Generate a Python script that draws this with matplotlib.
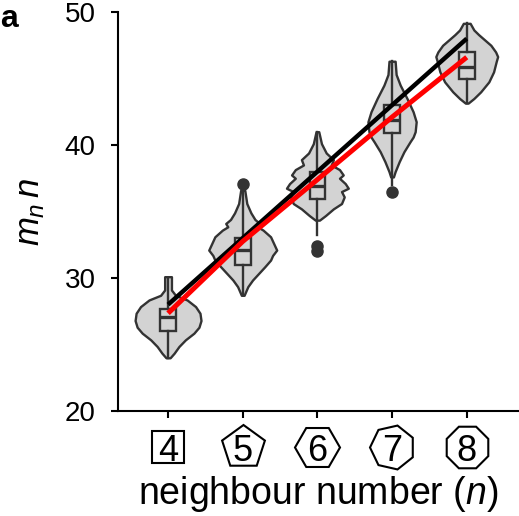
import matplotlib
matplotlib.use('Agg')
import matplotlib.pyplot as plt
import numpy as np

plt.rcParams['font.family'] = ['Liberation Sans', 'DejaVu Sans']
plt.rcParams['mathtext.fontset'] = 'custom'
plt.rcParams['mathtext.rm'] = 'Liberation Sans'
plt.rcParams['mathtext.it'] = 'Liberation Sans:italic'

# ---------------- data ----------------
neighbours = [4, 5, 6, 7, 8]
tick_labels = ['4', '5', '6', '7', '8']
polygon_sides = [4, 5, 6, 7, 8]
polygon_angles = [45, 0, 30, 90, 22.5]

# violin outlines: values and relative density (0..1)
v4_vals = [30.1, 29.1, 28.7, 28.35, 27.85, 27.35, 26.8, 26.3, 25.85, 25.35, 24.85, 24.35, 24.0]
v4_dens = [0.10, 0.10, 0.22, 0.56, 0.81, 0.94, 0.97, 0.91, 0.76, 0.51, 0.32, 0.18, 0.06]
v5_vals = [36.6, 35.6, 34.9, 34.4, 34.1, 33.85, 33.6, 33.1, 32.6, 32.1, 31.7, 31.35, 30.85, 30.35, 29.85, 29.35, 28.7]
v5_dens = [0.06, 0.12, 0.24, 0.36, 0.50, 0.44, 0.60, 0.82, 0.91, 1.00, 0.88, 0.82, 0.65, 0.47, 0.29, 0.15, 0.04]
v6_vals = [41.0, 40.1, 39.4, 38.9, 38.5, 38.15, 37.75, 37.5, 37.1, 36.75, 36.5, 36.1, 35.6, 35.2, 34.7, 34.35]
v6_dens = [0.04, 0.12, 0.26, 0.47, 0.41, 0.65, 0.76, 0.65, 0.82, 0.91, 0.71, 0.79, 0.71, 0.47, 0.24, 0.06]
v7_vals = [46.3, 45.3, 44.5, 43.5, 42.5, 41.75, 41.0, 40.6, 40.25, 39.5, 38.75, 38.0, 37.6]
v7_dens = [0.09, 0.12, 0.24, 0.44, 0.62, 0.71, 0.68, 0.62, 0.53, 0.35, 0.21, 0.09, 0.04]
v8_vals = [49.15, 48.65, 48.3, 47.9, 47.5, 47.0, 46.65, 46.3, 45.5, 44.75, 44.0, 43.5, 43.15]
v8_dens = [0.10, 0.21, 0.35, 0.53, 0.71, 0.85, 0.91, 0.87, 0.79, 0.65, 0.41, 0.21, 0.04]

# box statistics
q1 = [26.0, 31.0, 35.95, 40.9, 45.0]
median = [27.1, 32.1, 36.9, 41.9, 45.9]
q3 = [27.7, 33.0, 38.0, 43.0, 47.0]
whisker_low = [24.0, 28.7, 33.2, 37.0, 43.15]
whisker_high = [30.0, 36.6, 41.0, 46.3, 49.15]
outliers = [[], [37.1], [32.4, 32.0], [36.5], []]

# fitted lines
black_line = [28.0, 33.0, 38.0, 43.0, 48.0]
red_line = [27.35, 32.75, 37.4, 42.1, 46.6]

# ---------------- figure ----------------
fig = plt.figure(figsize=(5.19, 5.16), dpi=100)
ax = fig.add_axes([0.2274, 0.2035, 0.7726, 0.7732])

pos = np.arange(len(neighbours))
violin_vals = [v4_vals, v5_vals, v6_vals, v7_vals, v8_vals]
violin_dens = [v4_dens, v5_dens, v6_dens, v7_dens, v8_dens]
half_max = 0.455
edge = '#333333'

for p, vals, dens in zip(pos, violin_vals, violin_dens):
    vals = np.array(vals)
    w = np.array(dens) * half_max
    ax.fill_betweenx(vals, p - w, p + w, facecolor='#d3d3d3', edgecolor=edge,
                     linewidth=1.7, zorder=1)

stats = []
for i in range(len(pos)):
    stats.append(dict(med=median[i], q1=q1[i], q3=q3[i], whislo=whisker_low[i],
                      whishi=whisker_high[i], fliers=outliers[i]))
ax.bxp(stats, positions=pos, widths=0.21, showcaps=False, patch_artist=True,
       boxprops=dict(facecolor='none', edgecolor=edge, linewidth=1.7),
       medianprops=dict(color=edge, linewidth=2.4),
       whiskerprops=dict(color=edge, linewidth=1.7),
       flierprops=dict(marker='o', markerfacecolor=edge, markeredgecolor=edge,
                       markersize=8, linestyle='none'),
       manage_ticks=False, zorder=2)

ax.plot(pos, black_line, color='black', linewidth=3.2, solid_capstyle='butt', zorder=3)
ax.plot(pos, red_line, color='#ff0000', linewidth=3.6, solid_capstyle='butt', zorder=4)

ax.set_xlim(-0.67, 4.7)
ax.set_ylim(20, 50)
ax.set_yticks([20, 30, 40, 50])
ax.set_xticks(pos, tick_labels)
for s in ['top', 'right']:
    ax.spines[s].set_visible(False)
for s in ['left', 'bottom']:
    ax.spines[s].set_linewidth(1.5)
ax.tick_params(axis='y', labelsize=20, length=5, width=1.5, pad=11)
ax.tick_params(axis='x', labelsize=26, length=5, width=1.5, pad=11.5)

# polygon frames around neighbour numbers
for p, ns, ang in zip(pos, polygon_sides, polygon_angles):
    ax.plot([p], [-0.0902], marker=(ns, 0, ang), markersize=32.4,
            markerfacecolor='none', markeredgecolor='black', markeredgewidth=1.5,
            transform=ax.get_xaxis_transform(), clip_on=False, linestyle='none')

ax.set_xlabel('neighbour number ($n$)', fontsize=27)
ax.xaxis.set_label_coords(0.5, -0.158)
ax.set_ylabel('$m_n\\,n$', fontsize=25, va='center')
ax.yaxis.set_label_coords(-0.219, 0.5)

fig.text(0.0, 0.9477, 'a', fontsize=23, fontweight='bold', ha='left', va='baseline',
         family=['Liberation Sans', 'DejaVu Sans'])

fig.savefig('out.png', dpi=100)
